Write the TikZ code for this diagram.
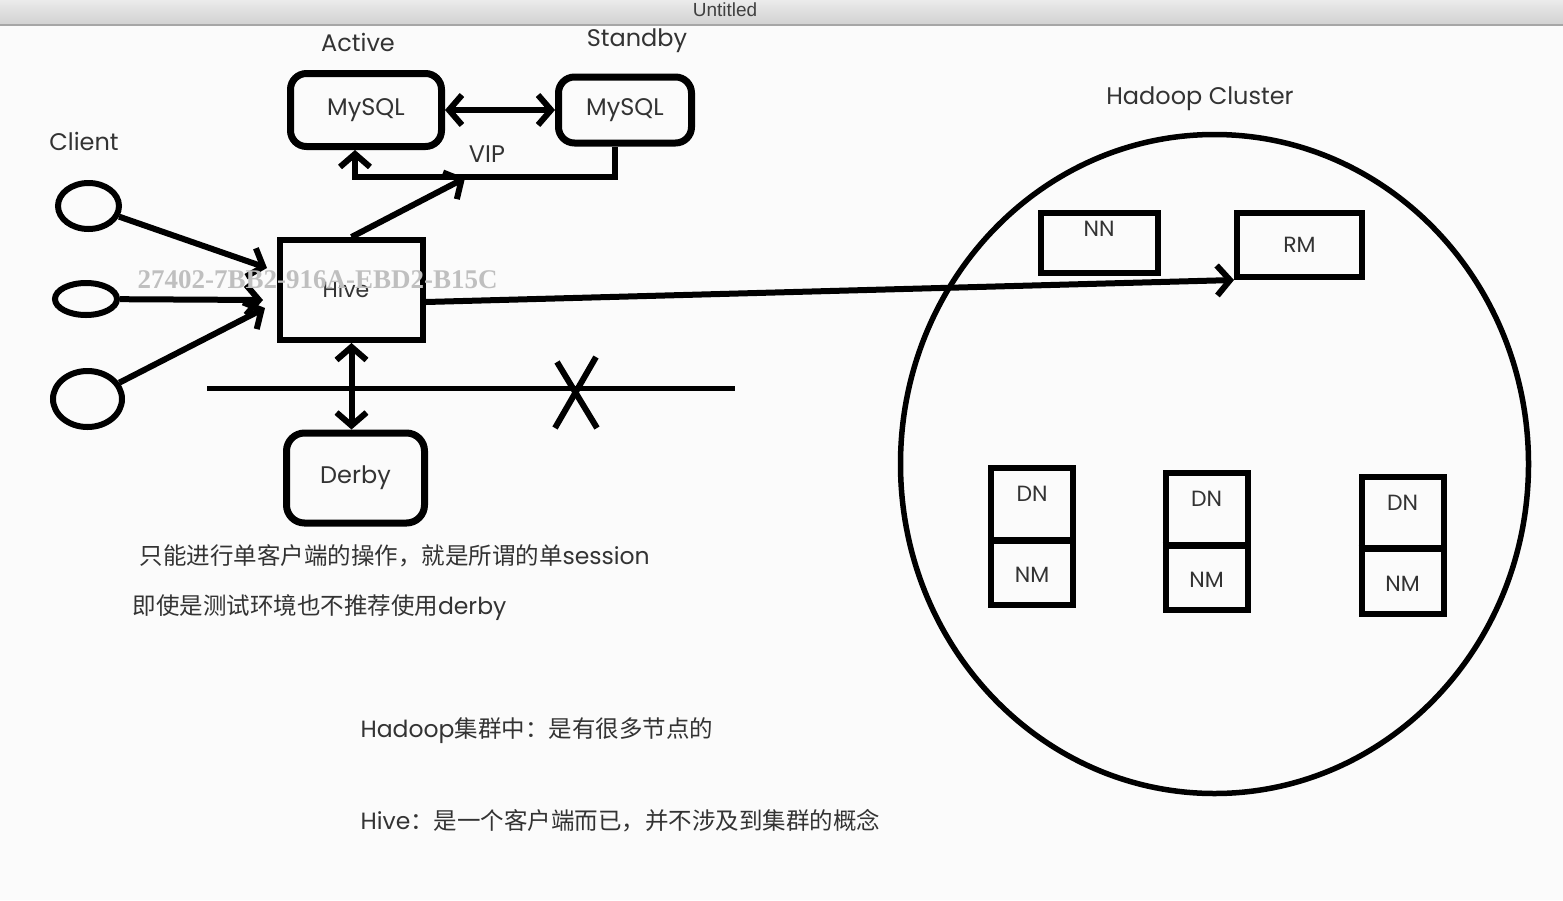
\documentclass[tikz,border=0pt]{standalone}
\usepackage{fontspec}
\setmainfont{Poppins}
\newfontfamily\cjk{Noto Sans CJK SC}
\newfontfamily\barfont{Liberation Sans}
\newfontfamily\markfont{Liberation Serif}
\usetikzlibrary{arrows.meta,positioning,shapes.geometric}
\definecolor{txt}{HTML}{333333}
\definecolor{paper}{HTML}{FBFBFB}

\begin{document}
\begin{tikzpicture}[x=1pt,y=-1pt,
    font=\fontsize{24}{28}\selectfont,text=txt,
    rbox/.style={draw,line width=7pt,rounded corners=16pt,inner sep=0pt},
    sbox/.style={draw,line width=6pt,inner sep=0pt},
    client/.style={draw,ellipse,line width=6pt,inner sep=0pt},
    conn/.style={line width=6pt},
    arr/.style={conn,-{Straight Barb[length=13pt,width=30pt]}},
    darr/.style={conn,{Straight Barb[length=13pt,width=30pt]}-{Straight Barb[length=13pt,width=30pt]}},
    small/.style={font=\fontsize{22}{26}\selectfont},
    note/.style={anchor=west,font=\fontsize{23.5}{28}\selectfont}]
    \useasboundingbox (0,0) rectangle (1563,900);
    % window
    \fill[paper] (0,0) rectangle (1563,900);
    \shade[top color=black!8,bottom color=black!18] (0,0) rectangle (1563,25);
    \draw[black!35,line width=1.5pt] (0,25) -- (1563,25);
    \node[font=\barfont\fontsize{19}{22}\selectfont,text=black!75] (title) at (725,10) {Untitled};
    % MySQL pair
    \node[rbox,minimum width=151pt,minimum height=73pt] (active) at (366,110) {MySQL};
    \node[rbox,minimum width=133pt,minimum height=66pt] (standby) at (625,110) {MySQL};
    \node (activelbl) at (358,42) {Active};
    \node (standbylbl) at (637,41) {Standby};
    \draw[darr] (active.east) -- (standby.west);
    \coordinate (vip) at (465,178);
    \draw[arr] ([xshift=-10pt]standby.south) -- ++(0,30) -| ([xshift=-11pt]active.south);
    \node (viplbl) at (487,154) {VIP};
    % clients
    \node (clientlbl) at (84,141) {Client};
    \node[client,minimum width=61pt,minimum height=46pt] (c1) at (88.5,206) {};
    \node[client,minimum width=62pt,minimum height=32pt] (c2) at (86,299) {};
    \node[client,minimum width=69pt,minimum height=56pt] (c3) at (87.5,399) {};
    % hive
    \node[sbox,minimum width=143pt,minimum height=100pt] (hive) at (351.5,290) {};
    \node[small] (hivelbl) at (346,289) {Hive};
    \draw[arr] (c1) -- ([xshift=-10pt,yshift=22pt]hive.west);
    \draw[arr] (c2) -- ([xshift=-14pt,yshift=-10pt]hive.west);
    \draw[arr] (c3) -- ([xshift=-12pt,yshift=-18pt]hive.west);
    \draw[arr] (hive.north) -- (vip);
    % derby
    \node[rbox,minimum width=138pt,minimum height=90pt,rounded corners=18pt] (derby) at (355.5,478) {Derby};
    \draw[darr] (hive.south) -- (hive.south |- derby.north);
    \draw[line width=5pt] (207,388) -- (735,388);
    \draw[line width=6pt] (557,362) -- (597,428);
    \draw[line width=6pt] (596,357) -- (555,428);
    % hadoop cluster
    \node[draw,ellipse,line width=5.5pt,minimum width=628pt,minimum height=659pt] (cluster) at (1214.5,464) {};
    \node (clusterlbl) at (1200,99) {Hadoop Cluster};
    \node[sbox,minimum width=117pt,minimum height=60pt,
          label={[anchor=north,inner sep=11pt,small]north:NN}] (nn) at (1099,242.5) {};
    \node[sbox,minimum width=125pt,minimum height=64pt,small] (rm) at (1299.5,245) {RM};
    \draw[arr] ([yshift=-12pt]hive.east) -- (rm.south west);
    \foreach \i/\x/\y in {1/1032/536.5,2/1206.5/541.5,3/1402.5/545}{
      \node[sbox,minimum width=82pt,minimum height=137pt] (dn\i) at (\x,\y) {};
      \draw[line width=7pt] ([yshift=-3.5pt]dn\i.west) -- ([yshift=-3.5pt]dn\i.east);
      \node[small] at ([yshift=42.5pt]dn\i.center) {DN};
      \node[small] at ([yshift=-38.5pt]dn\i.center) {NM};
    }
    % notes
    \node[note] (note1) at (136,556) {{\cjk 只能进行单客户端的操作，就是所谓的单}session};
    \node[note] (note2) at (129,608) {{\cjk 即使是测试环境也不推荐使用}derby};
    \node[note] (note3) at (357,731) {Hadoop{\cjk 集群中：是有很多节点的}};
    \node[note] (note4) at (357,821) {Hive{\cjk ：是一个客户端而已，并不涉及到集群的概念}};
    % overlay
    \node[font=\markfont\bfseries\fontsize{27}{30}\selectfont,text=black!25,anchor=west] (mark) at (134,280) {27402-7BB2-916A-EBD2-B15C};
\end{tikzpicture}
\end{document}
